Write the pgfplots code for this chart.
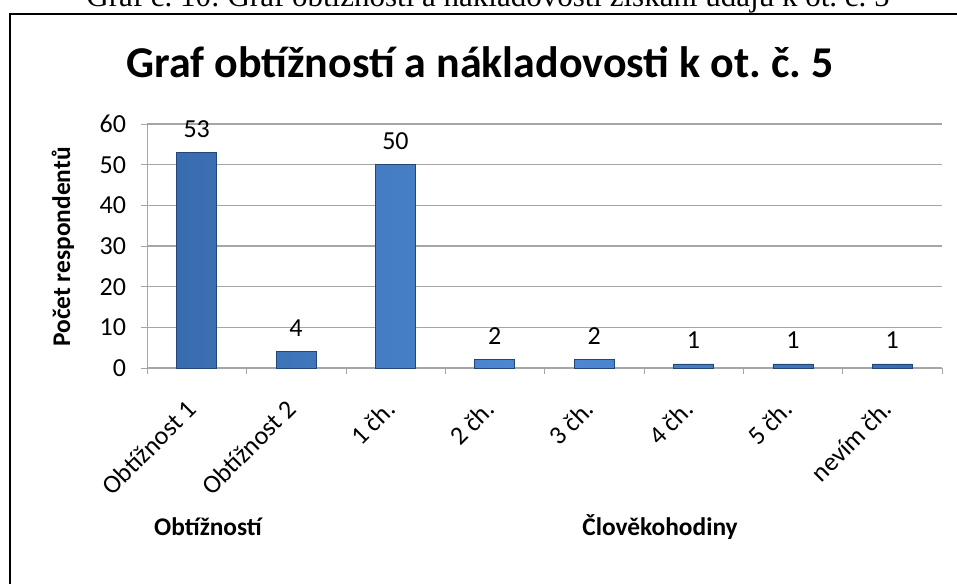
\documentclass[border=0pt]{standalone}
\usepackage{fontspec}
\setmainfont{Carlito}
\newfontfamily\capfont{Liberation Serif}
\usepackage{pgfplots}
\pgfplotsset{compat=1.18}
\frenchspacing

\definecolor{barmid}{HTML}{4F8AD6}
\definecolor{baredge}{HTML}{2A5894}
\definecolor{gridgray}{HTML}{A6A6A6}
\pgfdeclarehorizontalshading{barshade}{100bp}{color(0bp)=(baredge); color(30bp)=(baredge!50!barmid); color(50bp)=(barmid); color(70bp)=(baredge!50!barmid); color(100bp)=(baredge)}

\begin{document}
\begin{tikzpicture}[x=0.5pt,y=0.5pt]
\useasboundingbox (0,0) rectangle (957,583);
% caption, partly cut at the top
\node[anchor=base, font=\capfont\fontsize{15.5}{18}\selectfont] at (488,576)
  {Graf č. 10: Graf obtížnosti a nákladovosti získání údajů k ot. č. 5};
\draw[line width=1.1pt] (10,-20) rectangle (990,569);
\node[anchor=base, font=\bfseries\fontsize{22}{26}\selectfont] at (480,505)
  {Graf obtížností a nákladovosti k ot. č. 5};
\node[rotate=90, font=\bfseries\fontsize{12.7}{15}\selectfont] at (63,336) {Počet respondentů};
\node[font=\bfseries\fontsize{12.7}{15}\selectfont] at (208,56) {Obtížností};
\node[font=\bfseries\fontsize{12.7}{15}\selectfont] at (660,56) {Člověkohodiny};

\begin{axis}[
    at={(73.5pt,107.5pt)}, anchor=south west,
    scale only axis,
    width=397.5pt, height=122pt,
    xmin=-0.5, xmax=7.5,
    ymin=0, ymax=60,
    ytick={0,10,...,60},
    xtick={0,...,7},
    xticklabels={Obtížnost 1, Obtížnost 2, 1 čh., 2 čh., 3 čh., 4 čh., 5 čh., nevím čh.},
    minor xtick={-0.5,0.5,...,7.5},
    major x tick style={draw=none},
    minor x tick style={gridgray},
    y tick style={gridgray},
    tick align=outside,
    major tick length=3pt,
    minor tick length=3pt,
    axis lines*=left,
    axis line style={gridgray},
    ymajorgrids,
    grid style={gridgray, line width=0.6pt},
    tick label style={font=\fontsize{13}{15}\selectfont},
    /pgf/number format/assume math mode=true,
    yticklabel style={xshift=-4pt},
    xticklabel style={rotate=45, anchor=east},
    xticklabel shift=13pt,
    nodes near coords,
    nodes near coords style={font=\fontsize{13}{15}\selectfont, yshift=4pt},
]
\addplot[ybar, bar width=20pt, draw=baredge!80!black, line width=0.4pt,
         shading=barshade]
  coordinates {(0,53) (1,4) (2,50) (3,2) (4,2) (5,1) (6,1) (7,1)};
\end{axis}
\end{tikzpicture}
\end{document}
